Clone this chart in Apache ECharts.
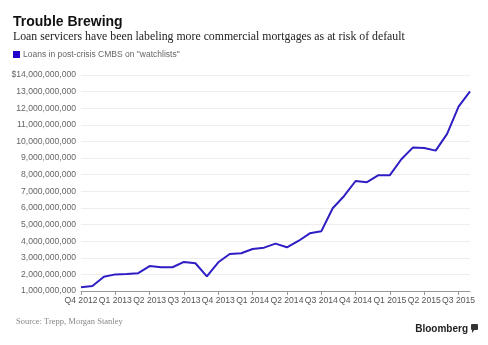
<!DOCTYPE html>
<html>
<head>
<meta charset="utf-8">
<script src="https://cdn.jsdelivr.net/npm/echarts@6/dist/echarts.min.js"></script>
<style>
html,body{margin:0;padding:0;background:#fff;}
#chart{width:488px;height:345px;}
</style>
</head>
<body>
<div id="chart"></div>
<script>
// Monthly observations, Oct 2012 .. Aug 2015
var months = ["2012-10","2012-11","2012-12","2013-01","2013-02","2013-03","2013-04","2013-05","2013-06","2013-07","2013-08","2013-09","2013-10","2013-11","2013-12","2014-01","2014-02","2014-03","2014-04","2014-05","2014-06","2014-07","2014-08","2014-09","2014-10","2014-11","2014-12","2015-01","2015-02","2015-03","2015-04","2015-05","2015-06","2015-07","2015-08"];
var quarterLabels = ["Q4 2012","Q1 2013","Q2 2013","Q3 2013","Q4 2013","Q1 2014","Q2 2014","Q3 2014","Q4 2014","Q1 2015","Q2 2015","Q3 2015"];
var watchlistLoans = [1220000000,1300000000,1860000000,2000000000,2030000000,2070000000,2500000000,2430000000,2430000000,2750000000,2670000000,1880000000,2730000000,3230000000,3270000000,3530000000,3610000000,3850000000,3630000000,4010000000,4470000000,4590000000,5980000000,6720000000,7620000000,7550000000,7970000000,7970000000,8930000000,9630000000,9610000000,9450000000,10460000000,12100000000,13020000000];
var yMin = 1000000000, yMax = 14000000000, yStep = 1000000000;

var chart = echarts.init(document.getElementById('chart'), null, {renderer:'canvas'});
function fmt(n){ return String(Math.round(n)).replace(/\B(?=(\d{3})+(?!\d))/g, ","); }
chart.setOption({
  animation:false,
  backgroundColor:'#fff',
  title:[
    {text:'Trouble Brewing', left:13, top:15, padding:0, textStyle:{fontFamily:'Liberation Sans', fontWeight:'bold', fontSize:14, color:'#111'}},
    {text:'Loan servicers have been labeling more commercial mortgages as at risk of default', left:13, top:31, padding:0, textStyle:{fontFamily:'Liberation Serif', fontWeight:'normal', fontSize:11.8, color:'#222'}},
    {text:'Source: Trepp, Morgan Stanley', left:16, top:317, padding:0, textStyle:{fontFamily:'Liberation Serif', fontWeight:'normal', fontSize:8.5, color:'#888'}},
    {text:'Bloomberg', right:20, top:324, padding:0, textStyle:{fontFamily:'Liberation Sans', fontWeight:'bold', fontSize:10, color:'#222'}}
  ],
  legend:{
    show:true, left:8, top:45, itemWidth:7, itemHeight:7, itemGap:4, icon:'rect',
    textStyle:{fontFamily:'Liberation Sans', fontSize:8.5, color:'#666', padding:[0,0,0,-2]},
    data:['Loans in post-crisis CMBS on "watchlists"']
  },
  graphic:[
    {type:'rect', right:10, top:324, shape:{width:7, height:6, r:1}, style:{fill:'#333'}},
    {type:'polygon', shape:{points:[[472,329],[475,329],[472,333]]}, style:{fill:'#333'}}
  ],
  grid:{left:81, right:18, top:75, bottom:54, containLabel:false},
  xAxis:{
    type:'category', data:months, boundaryGap:false,
    axisLine:{lineStyle:{color:'#999', width:1}},
    axisTick:{show:true, interval:2, length:4, lineStyle:{color:'#999'}},
    axisLabel:{interval:2, margin:5, fontFamily:'Liberation Sans', fontSize:8.6, color:'#555',
      formatter:function(v, i){ return quarterLabels[Math.floor(i/3)] || ''; }},
    splitLine:{show:false}
  },
  yAxis:{
    type:'value', min:yMin, max:yMax, interval:yStep,
    axisLine:{show:false}, axisTick:{show:false},
    splitLine:{lineStyle:{color:'#eeeeee', width:1}},
    axisLabel:{margin:5, fontFamily:'Liberation Sans', fontSize:8.6, color:'#666',
      formatter:function(v){ return (v===yMax?'$':'') + fmt(v); }}
  },
  series:[{
    name:'Loans in post-crisis CMBS on "watchlists"',
    type:'line', data:watchlistLoans, showSymbol:false, symbol:'none',
    lineStyle:{color:'#2f1ec4', width:2}, itemStyle:{color:'#2200cc'}
  }]
});
</script>
</body>
</html>
